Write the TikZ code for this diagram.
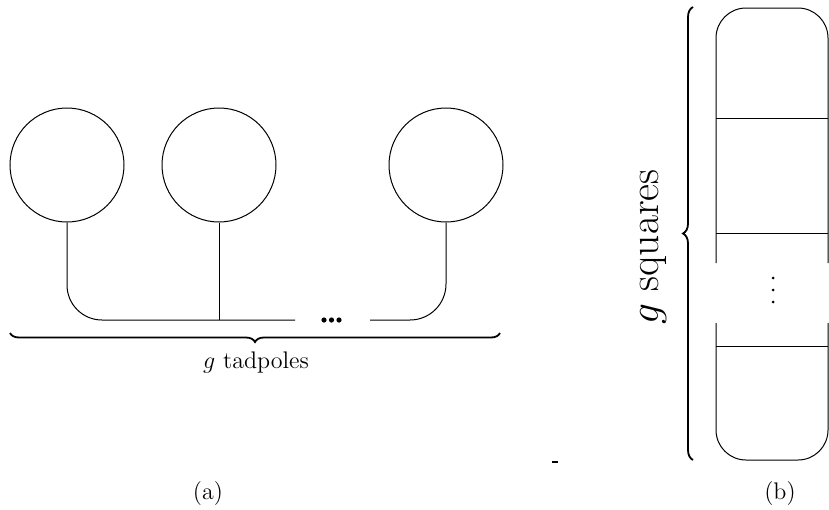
\documentclass[tikz,border=0pt]{standalone}
\usetikzlibrary{decorations.pathreplacing}
\begin{document}
\begin{tikzpicture}[x=0.5pt,y=-0.5pt, line width=0.5pt,
  tad/.style={circle, draw, minimum size=57pt, inner sep=0pt},
  brc/.style={decorate, decoration={brace, amplitude=#1}, line width=0.9pt},
  bigdot/.style={fill=black, circle, inner sep=0pt, minimum size=2.6pt},
  smalldot/.style={fill=black, circle, inner sep=0pt, minimum size=1.5pt}]
\useasboundingbox (0,0) rectangle (829,509);
% (a) tadpoles
\node[tad] (c1) at (67,165) {};
\node[tad] (c2) at (219,165) {};
\node[tad] (c3) at (446,165) {};
\coordinate (la) at (67,320);
\coordinate (mj) at (219,320);
\coordinate (le) at (295,320);
\coordinate (rs) at (370,320);
\coordinate (ra) at (446,320);
\draw[rounded corners=17.5pt] (c1.south) -- (la) -- (le);
\draw (c2.south) -- (mj);
\draw[rounded corners=18pt] (rs) -- (ra) -- (c3.south);
\node[bigdot] (d1) at (324,320) {};
\node[bigdot] (d2) at (331.5,320) {};
\node[bigdot] (d3) at (339,320) {};
\coordinate (bl) at (10,333);
\coordinate (br) at (500,333);
\draw[brc=4.5pt, decoration={mirror}] (bl) -- (br);
\node (tl) at (256,362) {\large $g$ tadpoles};
\node (la2) at (208,494) {\large (a)};
\coordinate (m1) at (552,462);
\coordinate (m2) at (558,462);
\draw[line width=0.6pt] (m1) -- (m2);
% (b) squares
\coordinate (bb) at (693,460);
\coordinate (bt) at (693,7);
\draw[brc=5pt] (bb) -- (bt);
\node[rotate=90] (sq) at (653,247) {\huge $g$ squares};
\coordinate (p1) at (716,263);
\coordinate (p2) at (716,8);
\coordinate (p3) at (828,8);
\coordinate (p4) at (828,263);
\coordinate (q1) at (716,323);
\coordinate (q2) at (716,460);
\coordinate (q3) at (828,460);
\coordinate (q4) at (828,323);
\draw[rounded corners=15pt] (p1) -- (p2) -- (p3) -- (p4);
\draw[rounded corners=15pt] (q1) -- (q2) -- (q3) -- (q4);
\coordinate (h1l) at (716,118); \coordinate (h1r) at (828,118);
\coordinate (h2l) at (716,233); \coordinate (h2r) at (828,233);
\coordinate (h3l) at (716,346); \coordinate (h3r) at (828,346);
\draw (h1l) -- (h1r);
\draw (h2l) -- (h2r);
\draw (h3l) -- (h3r);
\node[smalldot] (v1) at (773,278) {};
\node[smalldot] (v2) at (773,290) {};
\node[smalldot] (v3) at (773,302) {};
\node (lb) at (780,494) {\large (b)};
\end{tikzpicture}
\end{document}
